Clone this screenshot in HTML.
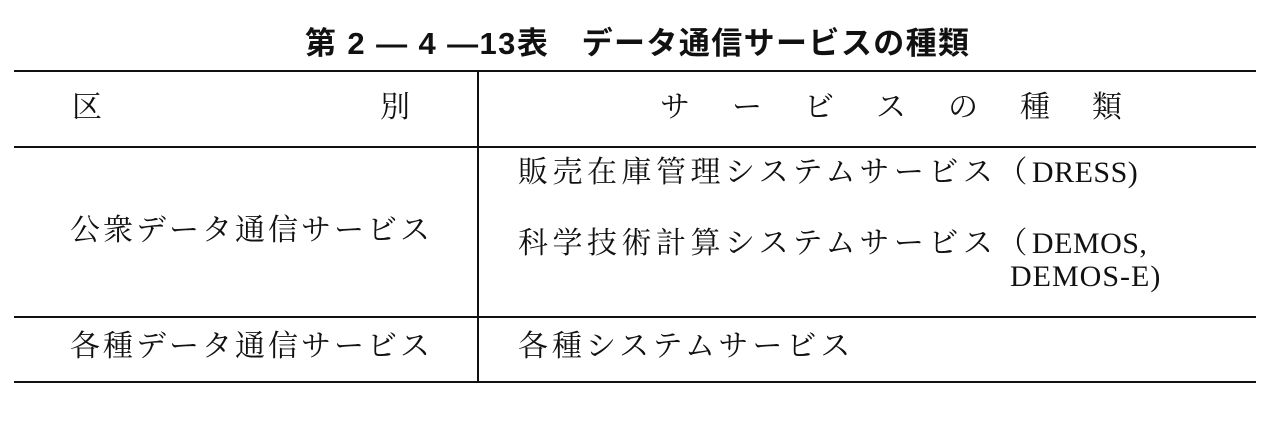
<!DOCTYPE html>
<html><head><meta charset="utf-8"><style>
body{margin:0;width:1277px;height:421px;background:#fff;position:relative;overflow:hidden;font-family:"Liberation Serif","Noto Serif CJK SC","Noto Sans CJK JP",serif;color:#111}
.t{position:absolute;white-space:nowrap;font-size:30px;line-height:1;letter-spacing:3px}
.h{position:absolute;background:#111;height:2px;left:14px;width:1242px}
.v{position:absolute;background:#111;width:2px;left:477px}
.l{letter-spacing:0.5px}
</style></head><body>
<div class="t" style="left:305px;top:28px;font-weight:bold;font-family:'Liberation Sans','Noto Sans CJK JP',sans-serif;font-size:31px;letter-spacing:1.4px">第 2 ― 4 ―13表　データ通信サービスの種類</div>
<div class="h" style="top:70px"></div>
<div class="h" style="top:146px"></div>
<div class="h" style="top:316px"></div>
<div class="h" style="top:381px"></div>
<div class="v" style="top:72px;height:309px"></div>
<div class="t" style="left:72px;top:93px">区</div>
<div class="t" style="left:380px;top:93px">別</div>
<div class="t" style="left:660px;top:93px;letter-spacing:42px">サービスの種類</div>
<div class="t" style="left:70px;top:216px">公衆データ通信サービス</div>
<div class="t" style="left:518px;top:158px;letter-spacing:4.5px">販売在庫管理システムサービス（<span class="l">DRESS)</span></div>
<div class="t" style="left:518px;top:229px;letter-spacing:4.5px">科学技術計算システムサービス（<span class="l">DEMOS,</span></div>
<div class="t" style="left:1010px;top:262px;letter-spacing:1px">DEMOS-E)</div>
<div class="t" style="left:70px;top:332px">各種データ通信サービス</div>
<div class="t" style="left:518px;top:332px;letter-spacing:4px">各種システムサービス</div>
</body></html>
